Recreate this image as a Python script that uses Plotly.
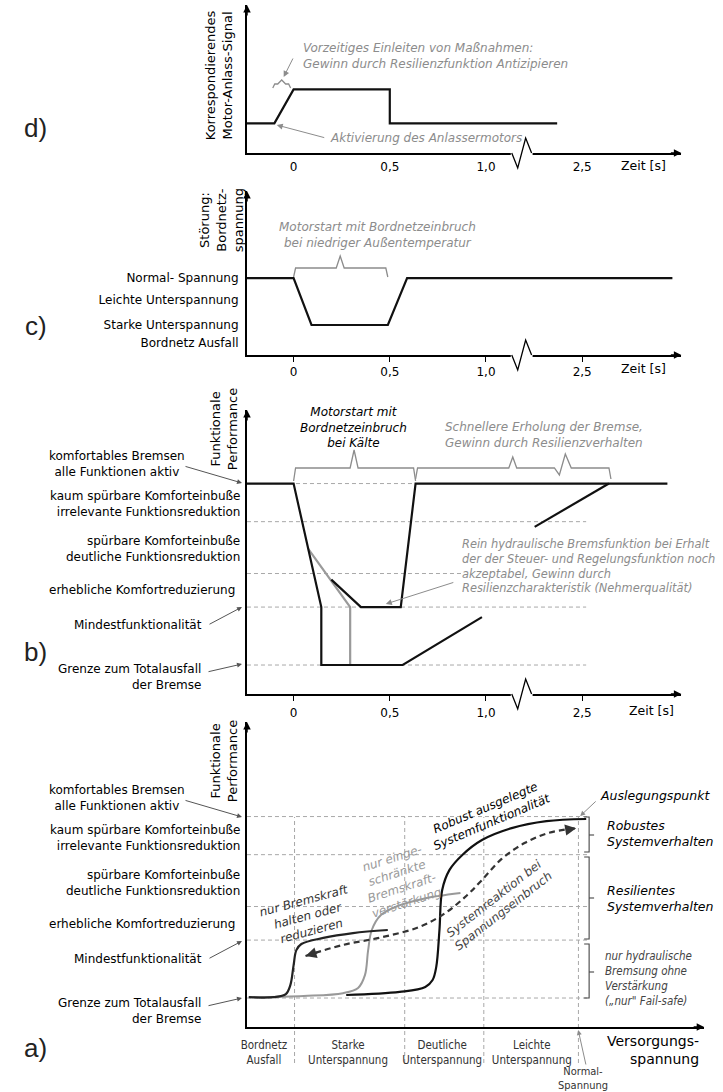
import plotly.graph_objects as go

W, H = 723, 1092
FONT = "DejaVu Sans, Verdana, sans-serif"
NARROW = "Liberation Sans Narrow, DejaVu Sans Condensed, Arial Narrow, sans-serif"
GRAY = "#8c8c8c"
DARK = "#555555"
GRID = "#a8a8a8"

# ---------------- data ----------------
# time axis of panels b-d (display units; 1.5 after the axis break is 2.5 s)
time_tickvals = [0, 0.5, 1.0, 1.5]
time_ticktext = ["0", "0,5", "1,0", "2,5"]

# panel d: starter signal
d_t = [-0.2423, -0.10, 0.0, 0.5, 0.5, 1.37]
d_sig = [0.2, 0.2, 0.43, 0.43, 0.2, 0.2]

# panel c: board net voltage
c_levels = [3.2, 2.29, 1.25, 0.5]
c_level_labels = ["Normal- Spannung", "Leichte Unterspannung",
                  "Starke Unterspannung", "Bordnetz Ausfall"]
c_t = [-0.2423, 0.0, 0.093, 0.49, 0.59, 1.969]
c_v = [3.2, 3.2, 1.25, 1.25, 3.2, 3.2]

# performance levels (panels a and b)
perf_levels = [6.9, 5.65, 3.95, 2.85, 0.95]

# panel b: functional performance over time
bA_t = [-0.2423, 0.0, 0.144, 0.144, 0.567, 0.979]
bA_p = [6.9, 6.9, 2.85, 0.95, 0.95, 2.52]
bB_t = [0.077, 0.294, 0.294, 0.567]
bB_p = [4.75, 2.85, 0.95, 0.95]
bC_t = [0.196, 0.35, 0.557, 0.634, 1.943]
bC_p = [3.75, 2.85, 2.85, 6.9, 6.9]
bD_t = [1.253, 1.639]
bD_p = [5.48, 6.9]

# panel a: performance over supply voltage
a_cat_centers = [0.37, 2.21, 4.27, 6.23]
a_cat_labels = ["Bordnetz<br>Ausfall", "Starke<br>Unterspannung",
                "Deutliche<br>Unterspannung", "Leichte<br>Unterspannung"]
a_bounds = [1.04, 3.45, 5.18, 7.25]
a1_v = [0.04, 0.59, 0.85, 0.95, 1.02, 1.08, 1.19, 1.67, 2.32, 3.08]
a1_p = [0.98, 0.98, 1.08, 1.38, 2.03, 2.52, 2.72, 2.92, 3.08, 3.18]
a2_v = [0.04, 1.24, 2.10, 2.43, 2.58, 2.65, 2.73, 2.93, 3.30, 3.84, 4.67]
a2_p = [0.98, 1.02, 1.11, 1.28, 1.70, 2.52, 3.18, 3.67, 3.97, 4.20, 4.39]
a3_v = [2.17, 3.34, 3.90, 4.06, 4.14, 4.21, 4.27, 4.43, 4.71, 5.14, 5.79, 6.55, 7.42]
a3_p = [1.05, 1.15, 1.31, 1.54, 1.97, 3.18, 4.49, 5.15, 5.64, 6.13, 6.52, 6.75, 6.82]
a4_v = [1.28, 2.10, 2.97, 3.77, 4.34, 4.82, 5.14, 5.57, 6.07, 6.59, 7.20]
a4_p = [2.33, 2.69, 2.95, 3.28, 3.74, 4.33, 4.82, 5.51, 6.03, 6.36, 6.52]

# ---------------- helpers ----------------
def fx(x):
    return x / W

def fy(y):
    return 1 - y / H

ann = []
shapes = []

def text(x, y, s, size=12, color="black", italic=False, xanchor="center",
         angle=0, family=FONT, bg=None):
    d = dict(x=fx(x), y=fy(y), xref="paper", yref="paper", text=s, showarrow=False,
             xanchor=xanchor, yanchor="middle", align=xanchor, borderpad=0,
             font=dict(family=family, size=size, color=color,
                       style="italic" if italic else "normal"),
             textangle=angle)
    if bg:
        d["bgcolor"] = bg
    ann.append(d)

def arrow(xt, yt, xs, ys, color=DARK, width=1, head=2, size=1.0):
    ann.append(dict(x=fx(xt), y=fy(yt), xref="paper", yref="paper",
                    ax=xs - xt, ay=ys - yt, showarrow=True, arrowhead=head,
                    arrowsize=size, arrowwidth=width, arrowcolor=color, text=""))

def path(pts, color, width=1.3, dash=None):
    s = "M " + " L ".join(f"{fx(x):.5f},{fy(y):.5f}" for x, y in pts)
    shapes.append(dict(type="path", path=s, xref="paper", yref="paper",
                       line=dict(color=color, width=width, dash=dash)))

def hbracket(x0, x1, ytop, ybot, xtip, ytip, color=GRAY, extra=None):
    pts = [(x0, ybot), (x0 + 2, ytop), (xtip - 4, ytop), (xtip, ytip), (xtip + 4, ytop)]
    if extra:
        pts += extra
    pts += [(x1 - 2, ytop), (x1, ybot)]
    path(pts, color, 1.3)

def axis_break(x0, ya):
    shapes.append(dict(type="rect", xref="paper", yref="paper", x0=fx(x0 - 1), x1=fx(x0 + 21),
                       y0=fy(ya + 2), y1=fy(ya - 2), fillcolor="white", line=dict(width=0)))
    path([(x0, ya), (x0 + 6, ya + 15), (x0 + 14, ya - 15), (x0 + 20, ya)], "black", 1.3)

def axis_arrows(xl, yb, xr, yt):
    arrow(xr, yb, xr - 12, yb, color="black", width=1.5, head=2, size=1.0)
    arrow(xl, yt, xl, yt + 12, color="black", width=1.5, head=2, size=1.0)

# ---------------- figure ----------------
fig = go.Figure()
LW = 2.2
fig.add_trace(go.Scatter(x=d_t, y=d_sig, mode="lines", line=dict(color="#111", width=LW),
                         xaxis="x", yaxis="y", showlegend=False, hoverinfo="skip"))
fig.add_trace(go.Scatter(x=c_t, y=c_v, mode="lines", line=dict(color="#111", width=LW),
                         xaxis="x2", yaxis="y2", showlegend=False, hoverinfo="skip"))
fig.add_trace(go.Scatter(x=bB_t, y=bB_p, mode="lines", line=dict(color="#9a9a9a", width=LW),
                         xaxis="x3", yaxis="y3", showlegend=False, hoverinfo="skip"))
for tt, pp in [(bA_t, bA_p), (bC_t, bC_p), (bD_t, bD_p)]:
    fig.add_trace(go.Scatter(x=tt, y=pp, mode="lines", line=dict(color="#111", width=LW),
                             xaxis="x3", yaxis="y3", showlegend=False, hoverinfo="skip"))
fig.add_trace(go.Scatter(x=a2_v, y=a2_p, mode="lines", line=dict(color="#999", width=2, shape="spline"),
                         xaxis="x4", yaxis="y4", showlegend=False, hoverinfo="skip"))
fig.add_trace(go.Scatter(x=a1_v, y=a1_p, mode="lines", line=dict(color="#222", width=2.2, shape="spline"),
                         xaxis="x4", yaxis="y4", showlegend=False, hoverinfo="skip"))
fig.add_trace(go.Scatter(x=a3_v, y=a3_p, mode="lines", line=dict(color="#111", width=2.2, shape="spline"),
                         xaxis="x4", yaxis="y4", showlegend=False, hoverinfo="skip"))
fig.add_trace(go.Scatter(x=a4_v, y=a4_p, mode="lines",
                         line=dict(color="#333", width=2.2, dash="6px,4px", shape="spline"),
                         xaxis="x4", yaxis="y4", showlegend=False, hoverinfo="skip"))

# arrow heads on the dashed reaction curve
for tip, prev in [(0, 1), (len(a4_v) - 1, len(a4_v) - 2)]:
    tx, ty = a4_v[tip], a4_p[tip]
    sx = tx + 0.35 * (a4_v[prev] - tx)
    sy = ty + 0.35 * (a4_p[prev] - ty)
    ann.append(dict(x=tx, y=ty, xref="x4", yref="y4", ax=sx, ay=sy, axref="x4", ayref="y4",
                    showarrow=True, arrowhead=2, arrowsize=1.1, arrowwidth=2, arrowcolor="#333", text=""))

# ---------------- grid / reference lines ----------------
b_grid_end = (585 - 290) / 194
for lv in perf_levels:
    shapes.append(dict(type="line", xref="x3", yref="y3", x0=-0.2423, x1=b_grid_end, y0=lv, y1=lv,
                       line=dict(color=GRID, width=1, dash="4px,3px"), layer="below"))
a_grid_end = (588 - 243) / 46.1
for lv in perf_levels:
    shapes.append(dict(type="line", xref="x4", yref="y4", x0=0, x1=a_grid_end, y0=lv, y1=lv,
                       line=dict(color=GRID, width=1, dash="4px,3px"), layer="below"))
for bv in a_bounds:
    shapes.append(dict(type="line", xref="x4", yref="paper", x0=bv, x1=bv, y0=fy(1063), y1=fy(817),
                       line=dict(color=GRID, width=1, dash="4px,3px"), layer="below"))

# ---------------- axes ----------------
def xax(dom, rng, tickvals=None, ticktext=None, ticks="", standoff=2, font=FONT, size=12, color="black"):
    return dict(domain=[fx(dom[0]), fx(dom[1])], range=rng, showline=True, linecolor="black",
                linewidth=2, showgrid=False, zeroline=False, ticks=ticks, ticklen=5, tickwidth=1,
                tickcolor="black", tickvals=tickvals, ticktext=ticktext,
                showticklabels=tickvals is not None, ticklabelstandoff=standoff,
                tickfont=dict(family=font, size=size, color=color), fixedrange=True)

def yax(dom, rng, tickvals=None, ticktext=None):
    return dict(domain=[fy(dom[0]), fy(dom[1])], range=rng, showline=True, linecolor="black",
                linewidth=2, showgrid=False, zeroline=False, ticks="",
                tickvals=tickvals, ticktext=ticktext, showticklabels=tickvals is not None,
                ticklabelstandoff=4, tickfont=dict(family=FONT, size=12, color="black"),
                fixedrange=True)

T_RANGE = [-0.2423, 2.0155]
layout = dict(
    xaxis=xax((243, 681), T_RANGE, time_tickvals, time_ticktext, ticks="", standoff=2),
    yaxis=yax((153, 5), [0, 1]),
    xaxis2=xax((243, 681), T_RANGE, time_tickvals, time_ticktext, ticks="outside", standoff=0),
    yaxis2=yax((355, 191), [0, (355 - 191) / 24], c_levels, c_level_labels),
    xaxis3=xax((243, 681), T_RANGE, time_tickvals, time_ticktext, ticks="outside", standoff=2),
    yaxis3=yax((694, 410), [0, (694 - 410) / 30.5]),
    xaxis4=xax((243, 704), [0, 10], a_cat_centers, a_cat_labels, ticks="", standoff=6,
               font=NARROW, size=11.5, color="#333"),
    yaxis4=yax((1027, 722), [0, (1027 - 722) / 30.5]),
)
for i, (xa, ya) in enumerate([("xaxis", "yaxis"), ("xaxis2", "yaxis2"),
                              ("xaxis3", "yaxis3"), ("xaxis4", "yaxis4")]):
    suf = "" if i == 0 else str(i + 1)
    layout[xa]["anchor"] = "y" + suf
    layout[ya]["anchor"] = "x" + suf

# axis arrows and breaks
axis_arrows(243, 153, 681, 5)
axis_arrows(243, 355, 681, 191)
axis_arrows(243, 694, 681, 410)
axis_arrows(243, 1027, 704, 722)
axis_break(510, 153)
axis_break(510, 355)
axis_break(510, 694)

# ---------------- panel labels ----------------
for lab, yy in [("d)", 128), ("c)", 326), ("b)", 652), ("a)", 1048)]:
    text(30, yy, lab, size=26, family="Liberation Sans, Arial, sans-serif", color="#222")

# ---------------- panel d ----------------
text(215, 75, "Korrespondierendes<br>Motor-Anlass-Signal", size=13, angle=-90)
text(643, 165, "Zeit [s]", size=12.5)
hbracket(269, 287, 84, 88, 278, 80)
arrow(280, 77, 290, 57, color=GRAY, width=1, head=2, size=1.2)
text(298, 56, "Vorzeitiges Einleiten von Maßnahmen:<br>Gewinn durch Resilienzfunktion Antizipieren",
     size=12, color=GRAY, italic=True, xanchor="left")
arrow(273, 125, 322, 138, color=GRAY, width=1, head=2, size=1.2)
text(326, 138, "Aktivierung des Anlassermotors", size=12, color=GRAY, italic=True, xanchor="left")

# ---------------- panel c ----------------
text(218, 220, "Störung:<br>Bordnetz-<br>spannung", size=13, angle=-90)
text(643, 368, "Zeit [s]", size=12.5)
hbracket(290, 385, 268, 277, 337, 256)
text(375, 235, "Motorstart mit Bordnetzeinbruch<br>bei niedriger Außentemperatur",
     size=12, color=GRAY, italic=True)

# ---------------- level labels (panels a and b) ----------------
def level_labels(off):
    text(112, 464 + off, "komfortables Bremsen<br>alle Funktionen aktiv", size=12)
    arrow(238, 483 + off, 180, 466 + off)
    text(237, 504 + off, "kaum spürbare Komforteinbuße<br>irrelevante Funktionsreduktion", size=12, xanchor="right")
    text(237, 549 + off, "spürbare Komforteinbuße<br>deutliche Funktionsreduktion", size=12, xanchor="right")
    text(232, 590 + off, "erhebliche Komfortreduzierung", size=12, xanchor="right")
    text(199, 625 + off, "Mindestfunktionalität", size=12, xanchor="right")
    arrow(238, 607 + off, 204, 625 + off)
    text(198, 677 + off, "Grenze zum Totalausfall<br>der Bremse", size=12, xanchor="right")
    arrow(238, 664 + off, 203, 672 + off)

level_labels(0)
level_labels(334)

# ---------------- panel b ----------------
text(220, 429, "Funktionale<br>Performance", size=13, angle=-90)
text(651, 710, "Zeit [s]", size=12.5)
text(350, 428, "Motorstart mit<br>Bordnetzeinbruch<br>bei Kälte", size=12, italic=True)
hbracket(290, 413, 468, 481, 351, 450)
hbracket(413, 610, 468, 479, 511, 457,
         extra=[(553, 468), (558, 475), (564, 454), (570, 468)])
text(442, 435, "Schnellere Erholung der Bremse,<br>Gewinn durch Resilienzverhalten",
     size=12, color=GRAY, italic=True, xanchor="left")
text(459, 566, "Rein hydraulische Bremsfunktion bei Erhalt<br>der der Steuer- und Regelungsfunktion noch<br>"
     "akzeptabel, Gewinn durch<br>Resilienzcharakteristik (Nehmerqualität)",
     size=11.4, color=GRAY, italic=True, xanchor="left", bg="white")
arrow(383, 604, 452, 582, color=GRAY, width=1, head=2, size=1.2)

# ---------------- panel a ----------------
text(220, 761, "Funktionale<br>Performance", size=13, angle=-90)
text(700, 1050, "Versorgungs-<br>spannung", size=14, xanchor="right")
text(582, 1078, "Normal-<br>Spannung", size=11, family=NARROW, color="#333")
arrow(577, 1030, 585, 1066, color=GRAY, width=1, head=2, size=1.0)
text(598, 795, "Auslegungspunkt", size=12.5, italic=True, xanchor="left")
arrow(579, 816, 596, 800, color=GRAY, width=1, head=2, size=1.0)
for top, bot, mid in [(817, 852, 835), (857, 939, 898), (944, 998, 972)]:
    path([(583, top), (588, top), (588, bot), (583, bot)], "#444", 1.1)
    path([(588, mid), (593, mid)], "#444", 1.1)
text(605, 833, "Robustes<br>Systemverhalten", size=12.5, italic=True, xanchor="left")
text(605, 898, "Resilientes<br>Systemverhalten", size=12.5, italic=True, xanchor="left")
text(603, 978, "nur hydraulische<br>Bremsung ohne<br>Verstärkung<br>(„nur\" Fail-safe)",
     size=11.5, italic=True, xanchor="left", family=NARROW, color="#444")
text(487, 815, "Robust ausgelegte<br>Systemfunktionalität", size=12, italic=True, angle=-23)
text(397, 880, "nur einge-<br>schränkte<br>Bremskraft-<br>verstärkung", size=12, italic=True,
     color="#999", angle=-18)
text(305, 915, "nur Bremskraft<br>halten oder<br>reduzieren", size=12, italic=True, color="#333", angle=-15)
text(497, 905, "Systemreaktion bei<br>Spannungseinbruch", size=12, italic=True, color="#444", angle=-38)

fig.update_layout(
    width=W, height=H, margin=dict(l=0, r=0, t=0, b=0),
    paper_bgcolor="white", plot_bgcolor="rgba(0,0,0,0)",
    annotations=ann, shapes=shapes, showlegend=False, **layout,
)
fig.write_html("out.html", config={"displayModeBar": False},
               post_script="document.body.style.margin='0px';document.body.style.overflow='hidden';")
